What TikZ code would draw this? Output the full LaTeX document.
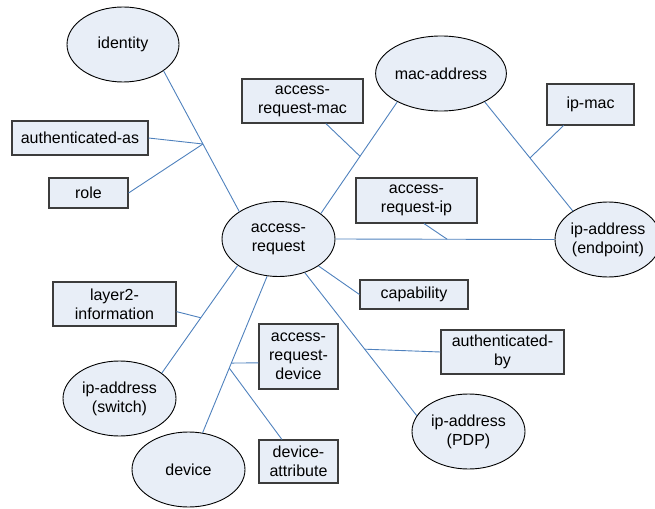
\documentclass[tikz,border=0pt]{standalone}
\usepackage{fontspec}
\setmainfont{Liberation Sans}
\usetikzlibrary{shapes.geometric,calc}
\definecolor{nodefill}{RGB}{232,238,247}
\definecolor{linkblue}{RGB}{79,129,189}
\definecolor{boxedge}{RGB}{60,60,60}
\tikzset{
  ent/.style={ellipse,draw=black,line width=0.9pt,fill=nodefill,inner sep=0pt,
    minimum width=#1,minimum height=75pt,align=center,
    font=\fontsize{16}{19}\selectfont},
  ent/.default=112pt,
  attr/.style 2 args={rectangle,draw=boxedge,line width=1.1pt,fill=nodefill,inner sep=0pt,
    minimum width=#1,minimum height=#2,align=center,
    font=\fontsize{16}{19}\selectfont},
  link/.style={draw=linkblue,line width=0.9pt}
}
\begin{document}
\begin{tikzpicture}[x=1pt,y=-1pt]
\useasboundingbox (0,0) rectangle (655,508);
% entities
\node[ent] (identity) at (123,44.5) {identity};
\node[ent] (mac) at (441,73.5) {mac-address};
\node[ent=113pt] (ar) at (278.5,239) {access-\\request};
\node[ent=106pt] (endpoint) at (608,239.5) {ip-address\\(endpoint)};
\node[ent=113pt] (switch) at (119.5,398.5) {ip-address\\(switch)};
\node[ent=113pt] (device) at (188.5,469.5) {device};
\node[ent=113pt] (pdp) at (468.5,431.5) {ip-address\\(PDP)};
% attributes
\node[attr={136pt}{34pt}] (authas) at (80,138) {authenticated-as};
\node[attr={79pt}{30pt}] (role) at (88.5,193) {role};
\node[attr={121pt}{44pt}] (armac) at (302.5,101) {access-\\request-mac};
\node[attr={87pt}{41pt}] (ipmac) at (590.5,104.5) {ip-mac};
\node[attr={121pt}{45pt}] (arip) at (416.5,200.5) {access-\\request-ip};
\node[attr={108pt}{29pt}] (cap) at (414,294.5) {capability};
\node[attr={123pt}{44pt}] (authby) at (502.5,352) {authenticated-\\by};
\node[attr={123pt}{44pt}] (layer2) at (114.5,304) {layer2-\\information};
\node[attr={79pt}{65pt}] (ardev) at (298.5,356.5) {access-\\request-\\device};
\node[attr={79pt}{43pt}] (devattr) at (298.5,461.5) {device-\\attribute};
% junctions
\coordinate (j1) at ($(identity.-33)!0.52!(ar.145)$);
\coordinate (j2) at ($(ar.31)!0.513!(mac.-147)$);
\coordinate (j3) at ($(mac.-33)!0.514!(endpoint.141)$);
\coordinate (j4) at ($(ar.east)!0.51!(endpoint.west)$);
\coordinate (j5) at ($(ar.-52)!0.535!(pdp.163)$);
\coordinate (j6) at ($(ar.-147)!0.486!(switch.31)$);
\coordinate (j7) at ($(ar.-107)!0.555!(device.69)$);
\coordinate (j8) at ($(ar.-107)!0.587!(device.69)$);
% connectors
\draw[link] (identity.-33) -- (ar.145);
\draw[link] (authas.east) -- (j1);
\draw[link] (role.east) -- (j1);
\draw[link] (ar.31) -- (mac.-147);
\draw[link] (armac.-44) -- (j2);
\draw[link] (mac.-33) -- (endpoint.141);
\draw[link] (ipmac.-142) -- (j3);
\draw[link] (ar.east) -- (endpoint.west);
\draw[link] (arip.-72) -- (j4);
\draw[link] (ar.-34) -- (cap.west);
\draw[link] (ar.-52) -- (pdp.163);
\draw[link] (authby.west) -- (j5);
\draw[link] (ar.-147) -- (switch.31);
\draw[link] (layer2.-7) -- (j6);
\draw[link] (ar.-107) -- (device.69);
\draw[link] (ardev.-171) -- (j7);
\draw[link] (devattr.127) -- (j8);
\end{tikzpicture}
\end{document}
